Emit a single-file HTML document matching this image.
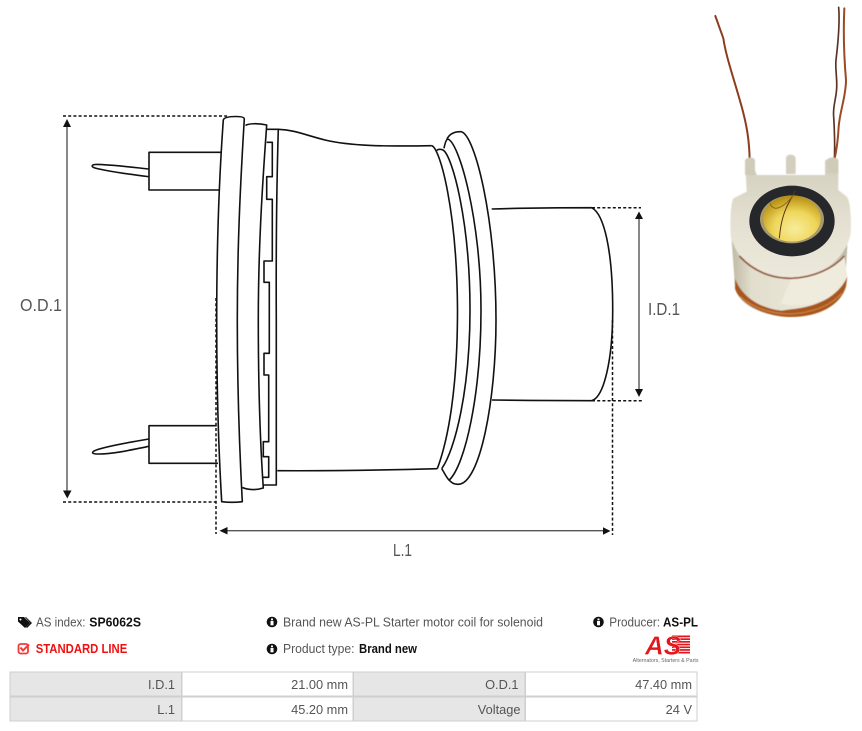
<!DOCTYPE html>
<html><head><meta charset="utf-8"><style>
html,body{margin:0;padding:0;background:#fff;width:862px;height:731px;overflow:hidden}
svg{display:block;font-family:"Liberation Sans",sans-serif}
.l{fill:none;stroke:#111;stroke-width:1.6;stroke-linejoin:round}
.d{fill:none;stroke:#111;stroke-width:1.5;stroke-dasharray:3 2.2}
.a{stroke:#555;stroke-width:1.4;fill:none}
.t{font-size:12.6px;fill:#555}
.b{font-size:12.6px;font-weight:bold;fill:#111}
.c{font-size:12.8px;fill:#555;text-anchor:end}
.dim{font-size:17.5px;fill:#555}
</style></head><body>
<svg width="862" height="731" viewBox="0 0 862 731" xmlns="http://www.w3.org/2000/svg">
<defs>
<linearGradient id="body" x1="0" y1="0" x2="1" y2="0"><stop offset="0" stop-color="#bdb7a3"/><stop offset=".18" stop-color="#e2decd"/><stop offset=".7" stop-color="#ebe8da"/><stop offset="1" stop-color="#b9b39e"/></linearGradient>
<linearGradient id="fl" x1="0" y1="0" x2="0" y2="1"><stop offset="0" stop-color="#d2cebd"/><stop offset=".5" stop-color="#e4e0d1"/><stop offset="1" stop-color="#ece9dc"/></linearGradient>
<radialGradient id="lens" cx=".55" cy=".72" r=".75"><stop offset="0" stop-color="#f7ec9c"/><stop offset=".5" stop-color="#efd65a"/><stop offset="1" stop-color="#b08608"/></radialGradient>
<filter id="bl" x="-10%" y="-10%" width="120%" height="120%"><feGaussianBlur stdDeviation="1.5"/></filter>
</defs>

<!-- pins -->
<path class="l" d="M221 152.3H149V190H219"/>
<path class="l" d="M149 169C130 167 105 164 95 164.5C91 165 91.500 167 95 168C110 172 135 175 149 176.700"/>
<path class="l" d="M216.700 425.700H149V463.300H218"/>
<path class="l" d="M149 439C125 443 100 448 94 451C91 453 93 454 98 454C115 454 135 449 149 446.300"/>

<!-- flange 1 -->
<path class="l" d="M221.700 501.700C218 440 216.700 380 216.700 320C216.700 250 219 180 223.300 120C224 117.500 228 116.500 236 116.500C240 116.500 244.300 117 244.300 119C240 190 237.300 250 237.300 320C237.300 380 239 440 242.300 501.700C236 502.500 228 502.500 221.700 501.700Z"/>
<!-- flange 2 -->
<path class="l" d="M245.500 125.500C248 123.500 258 123 266.700 125C262 190 258.300 250 258.300 320C258.300 380 260 440 263.300 488C256 490.300 248 490 242.300 487.500"/>
<!-- part 3 -->
<path class="l" d="M266.700 129.300H278.300C276.500 190 276 260 276.300 320V485H263"/>
<path class="l" d="M266.700 142.300H272.300V176.700H266.700V199.300H272.300V261H264V282.300H269.300V353.300H264V375H268.700V441.700H263.300V456.700H268.700V477.300H262.700"/>

<!-- body -->
<path class="l" d="M278.300 129.300C295 130 305 135 325 140C350 146 385 146.500 431.700 145.700"/>
<path class="l" d="M277.300 470.700C330 471 390 470 437.300 468.700"/>
<!-- rings -->
<path class="l" d="M431.700 145.700C440 148 457 210 457.500 310C457.500 390 448 440 437.300 468.700"/>
<path class="l" d="M436.700 150.500C438 149 441 149 443 150C452 155 470 220 470 310C470 390 455 450 441.700 468.700"/>
<path class="l" d="M444 148.300C445 143 446 140 447.500 139C459 141 481 220 481 310C481 395 465 465 449.300 480"/>
<path class="l" d="M447 139C450 133 455 131.500 461 131.700C475 134 496 220 496 320C496 400 480 484 458.300 484.300C453 484.300 451 482 449 480C446 477 444 472 441.700 468.700"/>
<!-- cylinder -->
<path class="l" d="M491.700 209C525 208 560 207.700 591.700 207.700C604 214 612.700 250 612.700 310C612.700 360 604 397 591.700 400.700C560 400.700 525 400.500 492 400"/>

<!-- dimension lines -->
<path class="d" d="M63 116H227"/>
<path class="d" d="M63 502H216"/>
<path class="d" d="M216 298V534"/>
<path class="d" d="M592 207.700H641"/>
<path class="d" d="M592 400.700H642"/>
<path class="d" d="M612.500 320V535"/>
<path class="a" d="M67 125V492"/>
<path d="M67 119L71 127H63Z M67.300 498.500L63 490.500H71.500Z" fill="#111"/>
<path class="a" d="M227 530.700H604"/>
<path d="M219.500 530.700L227.500 527V534.500Z M610.500 531L603 527.200V534.800Z" fill="#111"/>
<path class="a" d="M639 218V390"/>
<path d="M639 211.500L643 219H635Z M639 397L635 389H643Z" fill="#111"/>
<text class="dim" x="20" y="311" textLength="42" lengthAdjust="spacingAndGlyphs">O.D.1</text>
<text class="dim" x="648" y="315" textLength="32" lengthAdjust="spacingAndGlyphs">I.D.1</text>
<text class="dim" x="393" y="556" textLength="19" lengthAdjust="spacingAndGlyphs">L.1</text>

<!-- photo wires -->
<g transform="translate(700 0) scale(.33333)" fill="none" stroke-linecap="round">
<path d="M46 48L70 115C78 170 100 230 125 320C140 375 148 420 149 480" stroke="#8c3d20" stroke-width="6"/>
<path d="M416 22C420 70 414 130 408 180C405 210 412 230 410 265C408 300 398 320 401 350C404 400 405 440 403 480" stroke="#5b3325" stroke-width="5"/>
<path d="M433 25C430 90 432 170 438 240C438 290 420 330 416 380C414 420 410 450 403 480" stroke="#9a4a24" stroke-width="6"/>
</g>

<!-- photo -->
<g transform="translate(710 150) scale(.33333)">
<g filter="url(#bl)">
<path d="M62 230L75 410C80 450 130 495 230 500C330 498 395 450 405 410L415 230Z" fill="url(#body)"/>
<path d="M105 30H135V75H345V30H385V120L410 140C420 150 425 200 422 250C410 320 340 382 245 388C150 385 85 340 62 260C60 210 62 160 70 145L110 125Z" fill="url(#fl)"/>
<path d="M228 25C228 10 255 10 257 25V72H228Z" fill="#d3cfbe"/>
<path d="M105 30C112 20 130 20 135 30V60L140 75H105Z" fill="#cfcbb9"/>
<path d="M350 30C356 20 380 20 385 30V70H350Z" fill="#cfcbb9"/>
<path d="M240 465L212 460L245 385C300 385 370 355 403 318L412 380C400 430 340 470 240 465Z" fill="#efecdd"/>
<path d="M88 318C140 375 200 385 245 385C310 383 370 355 403 318" fill="none" stroke="#8f4420" stroke-width="5"/>
<path d="M75 385C95 440 150 475 215 482L240 478C320 472 385 440 412 380L408 410C390 470 320 503 235 501C150 497 85 455 75 415Z" fill="#a9561f"/>
<path d="M90 440C130 475 180 490 235 492C300 490 360 470 395 430" fill="none" stroke="#d08a4a" stroke-width="3"/>
</g>
<ellipse cx="246" cy="213" rx="128" ry="106" fill="#25272a"/>
<ellipse cx="246" cy="208" rx="96" ry="72" fill="#a89a68"/>
<ellipse cx="246" cy="206" rx="86" ry="69" fill="url(#lens)"/>
<path d="M255 122C245 150 215 175 208 265" fill="none" stroke="#5a3318" stroke-width="3"/>
<path d="M180 160C190 190 225 170 250 135" fill="none" stroke="#8a6a14" stroke-width="3"/>
</g>

<!-- info texts -->
<g fill="#111">
<path d="M18 617H24L30 623L25 628L18 621.500Z"/>
<path d="M26 617L32 623L27 628L26 627L30 623L25 617Z"/>
<circle cx="20.500" cy="619.500" r="1" fill="#fff"/>
</g>
<text class="t" x="36" y="626.500" textLength="49.500" lengthAdjust="spacingAndGlyphs">AS index:</text>
<text class="b" x="89.300" y="626.500" textLength="51.700" lengthAdjust="spacingAndGlyphs">SP6062S</text>

<rect x="18.500" y="644" width="9.500" height="9.500" rx="2" fill="none" stroke="#f23b3b" stroke-width="1.800"/>
<path d="M20.500 647.500L23 650.500L29 644.500" fill="none" stroke="#f23b3b" stroke-width="2"/>
<text x="35.700" y="653" textLength="91.600" lengthAdjust="spacingAndGlyphs" font-size="12.600" font-weight="bold" fill="#f01010">STANDARD LINE</text>

<circle cx="272" cy="622" r="5.300" fill="#111"/>
<rect x="271" y="618.500" width="2" height="1.800" fill="#fff"/>
<rect x="270.500" y="621" width="3" height="4.300" fill="#fff"/>
<text class="t" x="283" y="626.500" textLength="260" lengthAdjust="spacingAndGlyphs">Brand new AS-PL Starter motor coil for solenoid</text>

<circle cx="272" cy="649" r="5.300" fill="#111"/>
<rect x="271" y="645.500" width="2" height="1.800" fill="#fff"/>
<rect x="270.500" y="648" width="3" height="4.300" fill="#fff"/>
<text class="t" x="283" y="653" textLength="71.500" lengthAdjust="spacingAndGlyphs">Product type:</text>
<text class="b" x="359" y="653" textLength="58" lengthAdjust="spacingAndGlyphs">Brand new</text>

<circle cx="598.500" cy="622" r="5.300" fill="#111"/>
<rect x="597.500" y="618.500" width="2" height="1.800" fill="#fff"/>
<rect x="597" y="621" width="3" height="4.300" fill="#fff"/>
<text class="t" x="609.300" y="626.500" textLength="50.700" lengthAdjust="spacingAndGlyphs">Producer:</text>
<text class="b" x="663" y="626.500" textLength="35" lengthAdjust="spacingAndGlyphs">AS-PL</text>

<!-- logo -->
<rect x="672" y="635.500" width="18" height="19" fill="#e2161c"/>
<g fill="#fff">
<rect x="670" y="637.300" width="20" height="1"/><rect x="670" y="640" width="20" height="1"/>
<rect x="670" y="642.700" width="20" height="1"/><rect x="670" y="645.400" width="20" height="1"/>
<rect x="670" y="648.100" width="20" height="1"/><rect x="670" y="650.800" width="20" height="1"/>
<rect x="670" y="653.500" width="20" height="1"/>
</g>
<text x="645" y="654.500" font-size="26" font-weight="bold" font-style="italic" fill="#e2161c" stroke="#fff" stroke-width=".3" textLength="36" lengthAdjust="spacingAndGlyphs">AS</text>
<text x="632.700" y="662" font-size="5.200" fill="#666" textLength="65.800" lengthAdjust="spacingAndGlyphs">Alternators, Starters &amp; Parts</text>

<!-- table -->
<rect x="9.500" y="671.500" width="688" height="50" fill="#cfcfcf"/>
<g fill="#e6e6e6">
<rect x="10.500" y="672.500" width="170.500" height="23"/><rect x="10.500" y="697.500" width="170.500" height="23"/>
<rect x="354" y="672.500" width="170.500" height="23"/><rect x="354" y="697.500" width="170.500" height="23"/>
</g>
<g fill="#fff">
<rect x="182.500" y="672.500" width="170" height="23"/><rect x="182.500" y="697.500" width="170" height="23"/>
<rect x="526" y="672.500" width="170.500" height="23"/><rect x="526" y="697.500" width="170.500" height="23"/>
</g>
<text class="c" x="175" y="689">I.D.1</text>
<text class="c" x="348" y="689">21.00 mm</text>
<text class="c" x="518.500" y="689">O.D.1</text>
<text class="c" x="692" y="689">47.40 mm</text>
<text class="c" x="175" y="714">L.1</text>
<text class="c" x="348" y="714">45.20 mm</text>
<text class="c" x="520.500" y="714">Voltage</text>
<text class="c" x="692" y="714">24 V</text>
</svg>
</body></html>
